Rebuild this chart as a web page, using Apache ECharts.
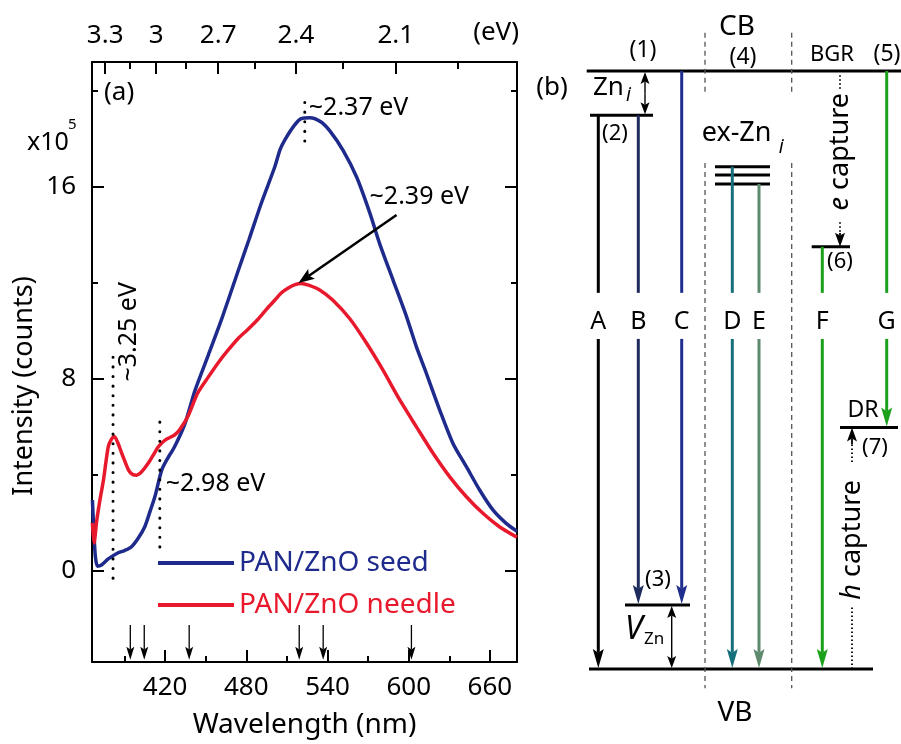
<!DOCTYPE html>
<html><head><meta charset="utf-8">
<script src="https://cdn.jsdelivr.net/npm/echarts@6/dist/echarts.min.js"></script>
<style>html,body{margin:0;padding:0;background:#fff}#c{width:901px;height:744px}</style>
</head><body><div id="c"></div>
<script>
const FONT = '"Noto Sans", "Open Sans", sans-serif';
const BLUE = '#1f2b8c', RED = '#e8192c';

// ---------- Panel (a): PL spectra ----------
const seedWl = [366.3,367.5,368.5,370,373,378,385,390,395,400,405,409,412.5,417.5,422,427,434.5,442,452,461.5,474,482,491,501,505,508.5,515.5,520.5,527,535,542,551.6,561.5,571.3,578.7,588.5,598.3,605.7,613.1,622.9,632.7,642.6,652.4,662.2,672,680];
const seedI  = [2.95,1.5,0.6,0.2,0.25,0.5,0.75,0.85,1.0,1.35,1.84,2.5,3.1,4.2,4.7,5.17,6.1,7.5,9.0,10.44,12.5,13.8,15.3,16.82,17.55,17.95,18.55,18.83,18.87,18.7,18.3,17.5,16.4,14.9,13.6,12.1,10.6,9.33,8.22,6.7,5.31,4.34,3.37,2.54,1.98,1.65];
const needleWl = [366.3,367.5,369.5,372,374.5,378,380.5,382.5,385,388,393,396,399,403,407.5,411,415,420,427,431,437,444,452,459,466.5,474,481.3,489,495,501,506,511,516,520.5,526,534.5,544,556.5,569,581,593.5,605.7,618,630.3,642.6,654.8,667,680];
const needleI  = [2.0,1.16,2.1,3.0,3.8,5.17,5.5,5.6,5.35,4.9,4.2,4.02,3.99,4.15,4.48,4.8,5.17,5.45,5.66,5.9,6.45,7.4,8.08,8.65,9.19,9.68,10.06,10.5,10.9,11.27,11.58,11.78,11.92,11.97,11.9,11.69,11.27,10.5,9.47,8.36,7.11,6.0,4.9,3.92,3.09,2.4,1.84,1.4];

const bottomTicksNm = [420,480,540,600,660];
const bottomMinorNm = [390,450,510,570,630];
const topTicksEv = [3.3,3,2.7,2.4,2.1];
const topMinorEv = [3.15,2.85,2.55,2.25,1.95];
const yTicks = [0,8,16];
const yMinor = [4,12,20];

const peakEv = [2.37, 3.25, 2.98];
const peakLineFrom = [17.9, -0.3, 1.0];
const peakLineTo = [19.75, 9.0, 6.2];
const peakLabels = ['~2.37 eV', '~3.25 eV', '~2.98 eV'];
const arrowFrom = [591, 14.82];   // [nm, intensity]
const arrowTo = [518.5, 11.99];
const arrowLabel = '~2.39 eV';
const markerNm = [394.3, 404.6, 437.8, 519.1, 536.8, 602];
const markerTop = -2.25, markerBottom = -3.7;

// ---------- Panel (b): energy-level diagram (x: column offset, e: 0 = VB, 1 = CB) ----------
const levelX0 = [56.7, 59, 60, 95, 185, 185, 185, 281.7, 310];
const levelX1 = [371, 343, 123, 160, 240, 240, 240, 320, 368];
const levelE  = [1, 0, 0.926, 0.107, 0.84, 0.826, 0.811, 0.706, 0.404];

const transLabel = ['A','B','C','D','E','F','G'];
const transX     = [68.3, 108.3, 151.7, 202.3, 229, 292.3, 356.7];
const transFrom  = [0.926, 0.926, 1, 0.84, 0.811, 0.706, 1];
const transTo    = [0, 0.107, 0.107, 0, 0, 0, 0.404];
const transColor = ['#000000','#1e2b5c','#1f2e8e','#16707c','#5d8a6c','#1aa01a','#1aa01a'];
const labelE = 0.58, gapTop = 0.629, gapBottom = 0.552;

const sepX = [175, 261.7];
const sepSegs = [[1.064, 0.96], [0.846, -0.032]];

const dblX = [115, 141.7];
const dblTop = [1, 0.107];
const dblBottom = [0.926, 0];

const diagTexts = ['CB','(1)','(4)','BGR','(5)','(b)','(2)','(3)','(6)','DR','(7)','VB'];
const diagTextX = [207, 113, 213, 302, 357, 22, 85, 128, 310, 333, 345, 205];
const diagTextE = [1.074, 1.035, 1.022, 1.028, 1.027, 0.973, 0.895, 0.15, 0.681, 0.433, 0.37, -0.074];
const diagTextSize = [28, 23, 23, 22, 23, 26, 22, 22, 22, 23, 22, 28];

const subTexts = [['Zn','i'], ['ex-Zn','i'], ['V','Zn']];
const subX = [63, 171.7, 95];
const subE = [0.972, 0.896, 0.066];

const captureX = [310, 322];
const captureItalic = ['e', 'h'];
const captureTextE = [0.865, 0.216];
const captureDots = [[[0.993, 0.967], [0.747, 0.729]], [[0.346, 0.376], [0, 0.104]]];
const captureArrow = [[0.729, 0.706], [0.376, 0.404]];

// ---------- helpers ----------
function arrowEls(p1, p2, color, lw, hl, hw) {
  const dx = p2[0]-p1[0], dy = p2[1]-p1[1];
  const L = Math.hypot(dx, dy) || 1, ux = dx/L, uy = dy/L;
  const bx = p2[0]-ux*hl, by = p2[1]-uy*hl, nx = -uy, ny = ux;
  const mx = p2[0]-ux*hl*0.8, my = p2[1]-uy*hl*0.8;
  return [
    {type:'line', shape:{x1:p1[0], y1:p1[1], x2:mx, y2:my}, style:{stroke:color, lineWidth:lw}},
    {type:'polygon', shape:{points:[[p2[0],p2[1]],[bx+nx*hw/2,by+ny*hw/2],[mx,my],[bx-nx*hw/2,by-ny*hw/2]]}, style:{fill:color}}
  ];
}
function txt(x, y, text, size, opts) {
  opts = opts || {};
  return {type:'text', x:x, y:y, rotation:opts.rotation||0,
    style:{text:text, x:0, y:0, fill:opts.color||'#000', font:(opts.italic?'italic ':'')+size+'px '+FONT,
      align:opts.align||'center', verticalAlign:opts.valign||'middle', rich:opts.rich}};
}

const sxA = {type:'value', gridIndex:0, min:366, max:680, splitLine:{show:false}};
const syA = {type:'value', gridIndex:0, min:-3.79, max:21.19, splitLine:{show:false}};
const lineSt = {color:'#000', width:2};

const option = {
  animation:false,
  backgroundColor:'#fff',
  textStyle:{fontFamily:FONT},
  grid:[
    {left:92, right:384, top:62, bottom:82, outerBoundsMode:'none', containLabel:false},
    {left:530, right:0, top:71, bottom:75, outerBoundsMode:'none', containLabel:false}
  ],
  xAxis:[
    Object.assign({}, sxA, {position:'bottom', axisLine:{show:true, onZero:false, lineStyle:lineSt},
      axisTick:{inside:true, length:12, customValues:bottomTicksNm, lineStyle:lineSt},
      axisLabel:{customValues:bottomTicksNm, fontSize:26, color:'#000', fontFamily:FONT, margin:13, hideOverlap:false},
      name:'Wavelength (nm)', nameLocation:'middle', nameGap:49, nameTextStyle:{fontSize:28, color:'#000', fontFamily:FONT}}),
    Object.assign({}, sxA, {position:'bottom', axisLine:{show:false, onZero:false},
      axisTick:{inside:true, length:6, customValues:bottomMinorNm, lineStyle:lineSt}, axisLabel:{show:false}}),
    Object.assign({}, sxA, {position:'top', axisLine:{show:true, onZero:false, lineStyle:lineSt},
      axisTick:{inside:true, length:12, customValues:topTicksEv.map(e=>1240/e), lineStyle:lineSt},
      axisLabel:{customValues:topTicksEv.map(e=>1240/e), fontSize:26, color:'#000', fontFamily:FONT, margin:13, hideOverlap:false,
        formatter:v=>String(+(1240/v).toFixed(2))}}),
    Object.assign({}, sxA, {position:'top', axisLine:{show:false, onZero:false},
      axisTick:{inside:true, length:7, customValues:topMinorEv.map(e=>1240/e), lineStyle:lineSt}, axisLabel:{show:false}}),
    {type:'value', gridIndex:1, min:0, max:371, show:false}
  ],
  yAxis:[
    Object.assign({}, syA, {position:'left', axisLine:{show:true, onZero:false, lineStyle:lineSt},
      axisTick:{inside:true, length:12, customValues:yTicks, lineStyle:lineSt},
      axisLabel:{customValues:yTicks, fontSize:26, color:'#000', fontFamily:FONT, margin:16, hideOverlap:false}}),
    Object.assign({}, syA, {position:'left', axisLine:{show:false, onZero:false},
      axisTick:{inside:true, length:6, customValues:yMinor, lineStyle:lineSt}, axisLabel:{show:false}}),
    Object.assign({}, syA, {position:'right', axisLine:{show:true, onZero:false, lineStyle:lineSt},
      axisTick:{inside:true, length:12, customValues:yTicks, lineStyle:lineSt}, axisLabel:{show:false}}),
    Object.assign({}, syA, {position:'right', axisLine:{show:false, onZero:false},
      axisTick:{inside:true, length:6, customValues:yMinor, lineStyle:lineSt}, axisLabel:{show:false}}),
    {type:'value', gridIndex:1, min:0, max:1, show:false}
  ],
  legend:{
    left:153, top:542, orient:'vertical', itemWidth:76, itemHeight:4, itemGap:10, icon:'rect', selectedMode:false,
    textStyle:{fontSize:28, fontFamily:FONT, lineHeight:32},
    data:[{name:'PAN/ZnO seed', textStyle:{color:BLUE}}, {name:'PAN/ZnO needle', textStyle:{color:RED}}]
  },
  graphic:[
    {type:'text', x:24, y:386, rotation:Math.PI/2, style:{text:'Intensity (counts)', font:'27px '+FONT, fill:'#000', textAlign:'center', textVerticalAlign:'middle'}},
    {type:'text', x:519, y:33, style:{text:'(eV)', font:'26px '+FONT, fill:'#000', textAlign:'right', textVerticalAlign:'middle'}},
    {type:'text', x:27, y:143, style:{text:'x10', font:'25px '+FONT, fill:'#000', textAlign:'left', textVerticalAlign:'middle'}},
    {type:'text', x:68, y:125, style:{text:'5', font:'15px '+FONT, fill:'#000', textAlign:'left', textVerticalAlign:'middle'}},
    {type:'text', x:104, y:93, style:{text:'(a)', font:'26px '+FONT, fill:'#000', textAlign:'left', textVerticalAlign:'middle'}}
  ],
  series:[
    {name:'PAN/ZnO seed', type:'line', xAxisIndex:0, yAxisIndex:0, data:seedWl.map((w,i)=>[w, seedI[i]]),
      showSymbol:false, smooth:0.25, lineStyle:{color:BLUE, width:3.5}, itemStyle:{color:BLUE}, z:3},
    {name:'PAN/ZnO needle', type:'line', xAxisIndex:0, yAxisIndex:0, data:needleWl.map((w,i)=>[w, needleI[i]]),
      showSymbol:false, smooth:0.25, lineStyle:{color:RED, width:3.5}, itemStyle:{color:RED}, z:3},
    // dotted peak markers + labels
    {type:'custom', xAxisIndex:0, yAxisIndex:0, z:4, data:peakEv.map((e,i)=>[1240/e, peakLineFrom[i]]),
      renderItem:(params, api)=>{
        const i = params.dataIndex, wl = 1240/peakEv[i];
        const p0 = api.coord([wl, peakLineFrom[i]]), p1 = api.coord([wl, peakLineTo[i]]);
        const ch = [{type:'line', shape:{x1:p0[0], y1:p0[1], x2:p1[0], y2:p1[1]},
          style:{stroke:'#000', lineWidth:3, lineDash:[0.1, 9.5], lineCap:'round'}}];
        if (i === 0) ch.push(txt(p1[0]+4, p1[1]+11, peakLabels[i], 25, {align:'left'}));
        if (i === 1) ch.push(txt(p1[0]+16, p1[1]-23, peakLabels[i], 25, {rotation:Math.PI/2}));
        if (i === 2) ch.push(txt(p1[0]+6, p1[1]+62, peakLabels[i], 25, {align:'left'}));
        return {type:'group', children:ch};
      }},
    // arrow to needle peak
    {type:'custom', xAxisIndex:0, yAxisIndex:0, z:4, data:[arrowFrom],
      renderItem:(params, api)=>{
        const a = api.coord(arrowFrom), b = api.coord(arrowTo);
        return {type:'group', children:arrowEls(a, b, '#000', 2.5, 16, 12).concat([txt(a[0]-27, a[1]-18, arrowLabel, 25, {align:'left'})])};
      }},
    // small transition markers on the wavelength axis
    {type:'custom', xAxisIndex:0, yAxisIndex:0, z:4, data:markerNm.map(w=>[w, markerTop]),
      renderItem:(params, api)=>{
        const w = markerNm[params.dataIndex];
        return {type:'group', children:arrowEls(api.coord([w, markerTop]), api.coord([w, markerBottom]), '#000', 1.3, 13, 8)};
      }},
    // ---- panel (b) ----
    {type:'custom', xAxisIndex:4, yAxisIndex:4, data:levelE.map((e,i)=>[levelX0[i], e]),
      renderItem:(params, api)=>{
        const i = params.dataIndex;
        const a = api.coord([levelX0[i], levelE[i]]), b = api.coord([levelX1[i], levelE[i]]);
        return {type:'line', shape:{x1:a[0], y1:a[1], x2:b[0], y2:b[1]}, style:{stroke:'#000', lineWidth:3}};
      }},
    {type:'custom', xAxisIndex:4, yAxisIndex:4, data:transX.map((x,i)=>[x, transFrom[i]]),
      renderItem:(params, api)=>{
        const i = params.dataIndex, x = transX[i], c = transColor[i];
        const ch = [];
        const t0 = api.coord([x, transFrom[i]]), g0 = api.coord([x, gapTop]);
        ch.push({type:'line', shape:{x1:t0[0], y1:t0[1], x2:g0[0], y2:g0[1]}, style:{stroke:c, lineWidth:3}});
        const g1 = api.coord([x, gapBottom]), t1 = api.coord([x, transTo[i]]);
        arrowEls(g1, [t1[0], t1[1]-1], c, 3, 19, 11).forEach(e=>ch.push(e));
        const lp = api.coord([x, labelE]);
        ch.push(txt(lp[0], lp[1], transLabel[i], 25));
        return {type:'group', children:ch};
      }},
    {type:'custom', xAxisIndex:4, yAxisIndex:4, data:sepX.map(x=>[x, 0]),
      renderItem:(params, api)=>{
        const x = sepX[params.dataIndex];
        return {type:'group', children:sepSegs.map(s=>{
          const a = api.coord([x, s[0]]), b = api.coord([x, s[1]]);
          return {type:'line', shape:{x1:a[0], y1:a[1], x2:b[0], y2:b[1]}, style:{stroke:'#555', lineWidth:1.3, lineDash:[5,4]}};
        })};
      }},
    {type:'custom', xAxisIndex:4, yAxisIndex:4, data:dblX.map((x,i)=>[x, dblTop[i]]),
      renderItem:(params, api)=>{
        const i = params.dataIndex, x = dblX[i];
        const a = api.coord([x, dblTop[i]]), b = api.coord([x, dblBottom[i]]);
        const m = [(a[0]+b[0])/2, (a[1]+b[1])/2];
        return {type:'group', children:arrowEls(m, [a[0], a[1]+1], '#000', 1.4, 12, 9).concat(arrowEls(m, [b[0], b[1]-1], '#000', 1.4, 12, 9))};
      }},
    {type:'custom', xAxisIndex:4, yAxisIndex:4, data:diagTexts.map((t,i)=>[diagTextX[i], diagTextE[i]]),
      renderItem:(params, api)=>{
        const i = params.dataIndex, p = api.coord([diagTextX[i], diagTextE[i]]);
        return txt(p[0], p[1], diagTexts[i], diagTextSize[i]);
      }},
    {type:'custom', xAxisIndex:4, yAxisIndex:4, data:subTexts.map((t,i)=>[subX[i], subE[i]]),
      renderItem:(params, api)=>{
        const i = params.dataIndex, p = api.coord([subX[i], subE[i]]);
        if (i === 0) return {type:'group', children:[txt(p[0], p[1], 'Zn', 26, {align:'left'}), txt(p[0]+33, p[1]+8, 'i', 19, {align:'left', italic:true})]};
        if (i === 1) return {type:'group', children:[txt(p[0], p[1], 'ex-Zn', 27, {align:'left'}), txt(p[0]+77, p[1]+14, 'i', 19, {align:'left', italic:true})]};
        return {type:'group', children:[txt(p[0], p[1], 'V', 32, {align:'left', italic:true}), txt(p[0]+19, p[1]+10, 'Zn', 17, {align:'left'})]};
      }},
    {type:'custom', xAxisIndex:4, yAxisIndex:4, data:captureX.map((x,i)=>[x, captureTextE[i]]),
      renderItem:(params, api)=>{
        const i = params.dataIndex, x = captureX[i], ch = [];
        captureDots[i].forEach(s=>{
          const a = api.coord([x, s[0]]), b = api.coord([x, s[1]]);
          ch.push({type:'line', shape:{x1:a[0], y1:a[1], x2:b[0], y2:b[1]}, style:{stroke:'#000', lineWidth:1.8, lineDash:[1.5,2.5]}});
        });
        const a = api.coord([x, captureArrow[i][0]]), b = api.coord([x, captureArrow[i][1]]);
        arrowEls(a, b, '#000', 1.8, 14, 10).forEach(e=>ch.push(e));
        const p = api.coord([x, captureTextE[i]]);
        ch.push({type:'text', x:p[0], y:p[1], rotation:Math.PI/2,
          style:{text:'{it|'+captureItalic[i]+'} capture', x:0, y:0, fill:'#000', font:'27px '+FONT, align:'center', verticalAlign:'middle',
            rich:{it:{fontStyle:'italic', fontSize:27, fontFamily:FONT}}}});
        return {type:'group', children:ch};
      }}
  ]
};

const chart = echarts.init(document.getElementById('c'), null, {renderer:'canvas'});
chart.setOption(option);
</script>
</body></html>
